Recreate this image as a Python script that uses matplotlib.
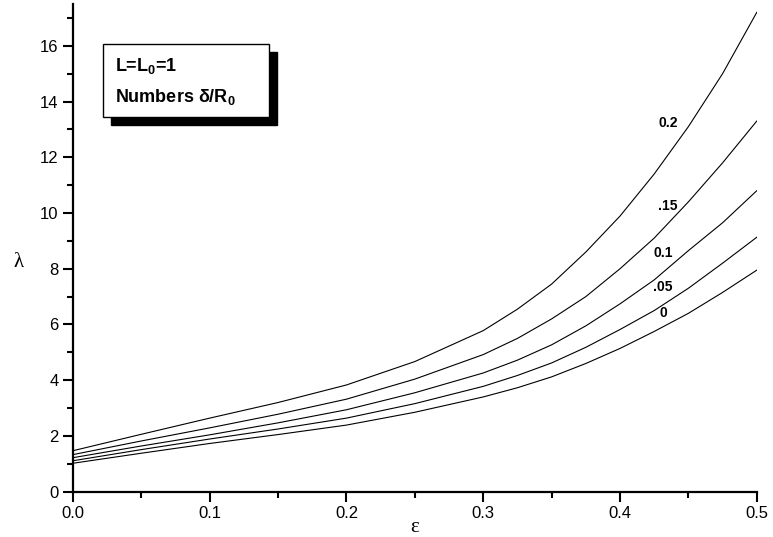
import numpy as np
import matplotlib
matplotlib.use('Agg')
import matplotlib.pyplot as plt
from matplotlib.patches import Rectangle
from matplotlib.ticker import MultipleLocator

plt.rcParams['font.family'] = ['Liberation Sans', 'DejaVu Sans']
plt.rcParams['mathtext.fontset'] = 'custom'
plt.rcParams['mathtext.rm'] = 'Liberation Sans:bold'
plt.rcParams['mathtext.bf'] = 'Liberation Sans:bold'

# data
eps = [0.0, 0.05, 0.1, 0.15, 0.2, 0.25, 0.3, 0.325, 0.35, 0.375, 0.4, 0.425, 0.45, 0.475, 0.5]
lam_0   = [1.02, 1.38, 1.73, 2.05, 2.39, 2.85, 3.40, 3.73, 4.12, 4.60, 5.14, 5.75, 6.40, 7.15, 7.95]
lam_005 = [1.11, 1.51, 1.89, 2.25, 2.64, 3.16, 3.78, 4.17, 4.62, 5.18, 5.82, 6.50, 7.30, 8.20, 9.13]
lam_01  = [1.22, 1.64, 2.04, 2.47, 2.94, 3.55, 4.26, 4.72, 5.27, 5.95, 6.74, 7.60, 8.65, 9.65, 10.8]
lam_015 = [1.33, 1.82, 2.29, 2.78, 3.32, 4.04, 4.92, 5.50, 6.20, 7.00, 8.00, 9.10, 10.4, 11.8, 13.3]
lam_02  = [1.47, 2.06, 2.64, 3.20, 3.83, 4.67, 5.78, 6.55, 7.45, 8.60, 9.89, 11.4, 13.1, 15.0, 17.2]
series = [lam_0, lam_005, lam_01, lam_015, lam_02]
curve_labels = ['0', '.05', '0.1', '.15', '0.2']
label_pos = [(0.4316, 6.43), (0.4316, 7.33), (0.4316, 8.58), (0.435, 10.24), (0.435, 13.23)]

fig = plt.figure(figsize=(7.73, 5.37), dpi=100)
ax = fig.add_axes([0.0944, 0.0844, 0.8846, 0.9081])

for lam in series:
    ax.plot(eps, lam, color='black', lw=0.8)

for txt, (lx, ly) in zip(curve_labels, label_pos):
    ax.text(lx, ly, txt, fontsize=10, fontweight='bold', ha='center', va='center')

ax.set_xlim(0, 0.5)
ax.set_ylim(0, 17.5)
ax.xaxis.set_major_locator(MultipleLocator(0.1))
ax.xaxis.set_minor_locator(MultipleLocator(0.05))
ax.yaxis.set_major_locator(MultipleLocator(2))
ax.yaxis.set_minor_locator(MultipleLocator(1))
ax.xaxis.set_major_formatter(plt.FormatStrFormatter('%.1f'))
ax.spines['top'].set_visible(False)
ax.spines['right'].set_visible(False)
ax.spines['left'].set_linewidth(1.6)
ax.spines['bottom'].set_linewidth(1.6)
ax.tick_params(which='major', direction='out', length=7, width=1.5, labelsize=12)
ax.tick_params(which='minor', direction='out', length=4, width=1.5)

ax.set_xlabel('ε', family='Liberation Serif', fontsize=15, labelpad=-2)
ax.set_ylabel('λ', family='Liberation Serif', fontsize=15, rotation=0)
ax.yaxis.set_label_coords(-0.08, 0.45)

# legend-like box with shadow
bx, by, bw, bh = 0.0439, 0.769, 0.2426, 0.149
ax.add_patch(Rectangle((bx + 0.0117, by - 0.0164), bw, bh, transform=ax.transAxes,
                       facecolor='black', edgecolor='black', zorder=4))
ax.add_patch(Rectangle((bx, by), bw, bh, transform=ax.transAxes,
                       facecolor='white', edgecolor='black', lw=1.0, zorder=5))
ax.text(0.061, 0.862, 'L=L$_{0}$=1', transform=ax.transAxes, fontsize=13,
        fontweight='bold', zorder=6, va='baseline')
ax.text(0.061, 0.800, 'Numbers δ/R$_{0}$', transform=ax.transAxes, fontsize=13,
        fontweight='bold', zorder=6, va='baseline')

fig.savefig('out.png', dpi=100)
